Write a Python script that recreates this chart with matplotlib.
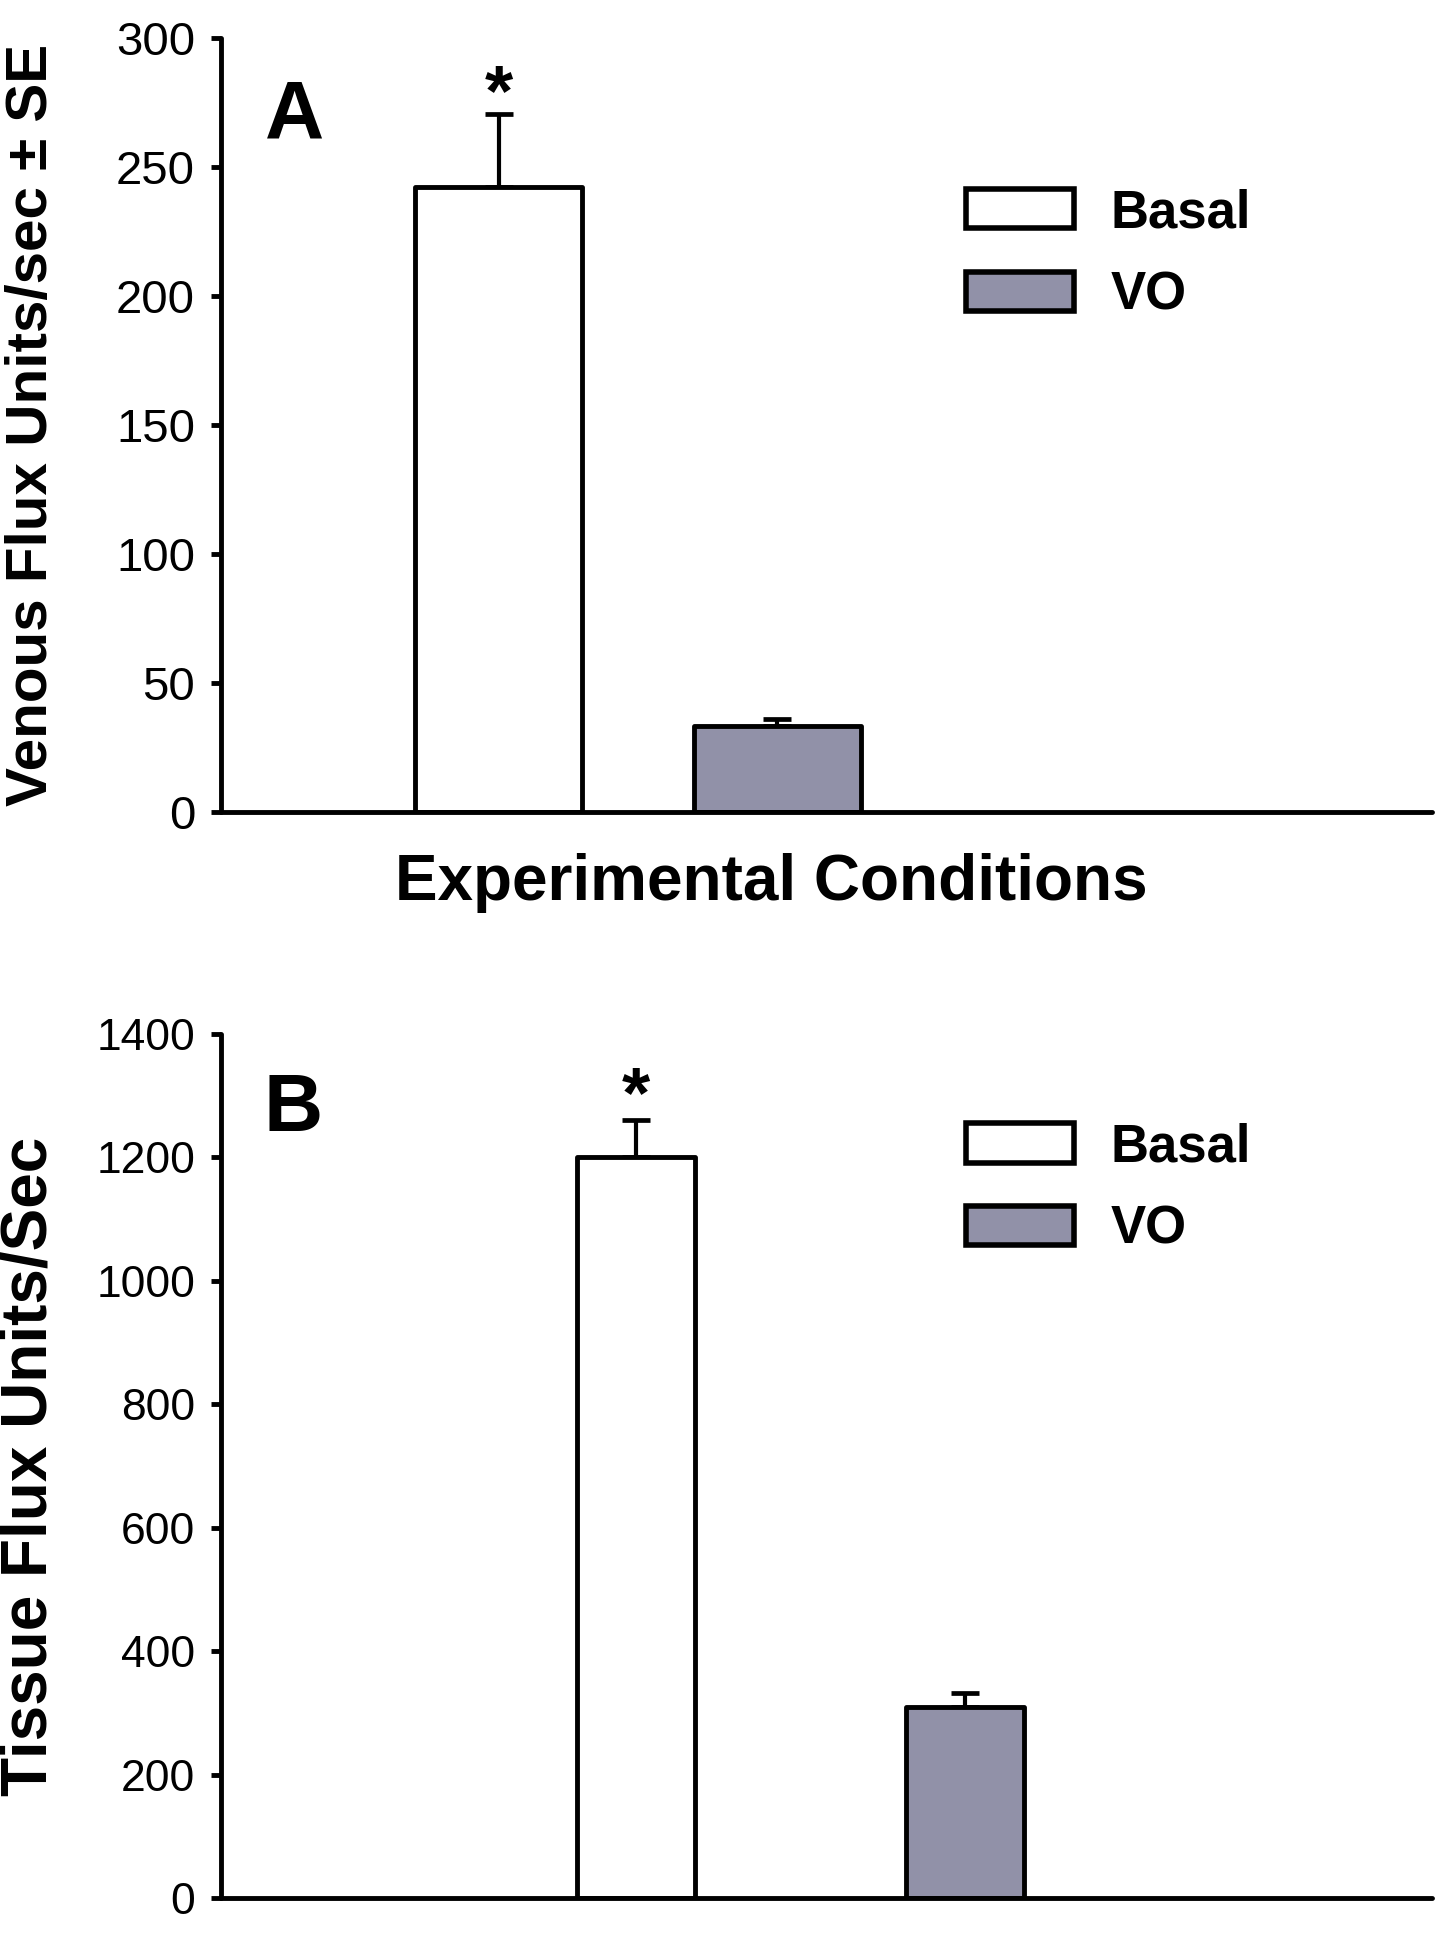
import matplotlib
matplotlib.use("Agg")
import matplotlib.pyplot as plt
from matplotlib.patches import Patch

plt.rcParams['font.family'] = ['Liberation Sans', 'DejaVu Sans']

conditions = ["Basal", "VO"]
colors = ["white", "#9191a8"]

venous_means = [242, 33.5]
venous_se = [28.5, 2.5]
tissue_means = [1200, 310]
tissue_se = [60, 22]

yticks_a = [0, 50, 100, 150, 200, 250, 300]
yticks_b = [0, 200, 400, 600, 800, 1000, 1200, 1400]

LW = 3.5

fig = plt.figure(figsize=(14.38, 19.5), dpi=100)
axA = fig.add_axes([0.154, 0.5836, 0.842, 0.397])
axB = fig.add_axes([0.154, 0.0267, 0.842, 0.443])

def style(ax, ticks, tsize):
    ax.spines['top'].set_visible(False)
    ax.spines['right'].set_visible(False)
    ax.spines['left'].set_linewidth(LW)
    ax.spines['bottom'].set_linewidth(LW)
    ax.spines['left'].set_capstyle('round')
    ax.spines['bottom'].set_capstyle('round')
    ax.set_xlim(0, 1)
    ax.set_ylim(ticks[0], ticks[-1])
    ax.set_yticks(ticks)
    ax.set_xticks([])
    ax.tick_params(axis='y', length=7, width=LW, labelsize=tsize, pad=12)

def panel(ax, pos, width, means, se, star_off):
    for p, m, e, c, lab in zip(pos, means, se, colors, conditions):
        ax.bar(p, m, width=width, color=c, edgecolor='black', linewidth=LW,
               joinstyle='round', label=lab, zorder=2)
        ax.errorbar(p, m, yerr=[[0], [e]], fmt='none', ecolor='black',
                    elinewidth=3.0, capsize=10, capthick=3.4, zorder=1)
    ax.annotate("*", xy=(pos[0], means[0] + se[0]), xytext=(0, star_off),
                textcoords='offset points', ha='center', va='baseline',
                fontsize=52, fontweight='bold')

# Panel A
style(axA, yticks_a, 34)
panel(axA, [0.229, 0.459], 0.138, venous_means, venous_se, -1)
axA.set_ylabel("Venous Flux Units/sec \u00b1 SE", fontsize=42, fontweight='bold')
axA.yaxis.set_label_coords(-0.134, 0.5)
axA.set_xlabel("Experimental Conditions", fontsize=46, fontweight='bold')
axA.xaxis.set_label_coords(0.454, -0.053)
axA.xaxis.label.set_va('top')
axA.text(0.036, 0.871, "A", transform=axA.transAxes, fontsize=59,
         fontweight='bold', va='baseline', ha='left')
handles = [Patch(facecolor=c, edgecolor='black', linewidth=4.0) for c in colors]
axA.legend(handles, conditions, loc='upper left', bbox_to_anchor=(0.615, 0.806),
           frameon=False, prop={'weight': 'bold', 'size': 38},
           handlelength=2.05, handleheight=0.78, handletextpad=0.68,
           labelspacing=0.62, borderpad=0, borderaxespad=0)

# Panel B
style(axB, yticks_b, 32)
panel(axB, [0.342, 0.614], 0.0975, tissue_means, tissue_se, 2.5)
axB.set_ylabel("Tissue Flux Units/Sec", fontsize=46, fontweight='bold')
axB.yaxis.set_label_coords(-0.134, 0.5)
axB.text(0.035, 0.888, "B", transform=axB.transAxes, fontsize=59,
         fontweight='bold', va='baseline', ha='left')
handles = [Patch(facecolor=c, edgecolor='black', linewidth=4.0) for c in colors]
axB.legend(handles, conditions, loc='upper left', bbox_to_anchor=(0.615, 0.898),
           frameon=False, prop={'weight': 'bold', 'size': 38},
           handlelength=2.05, handleheight=0.78, handletextpad=0.68,
           labelspacing=0.62, borderpad=0, borderaxespad=0)

fig.savefig("out.png", dpi=100)
